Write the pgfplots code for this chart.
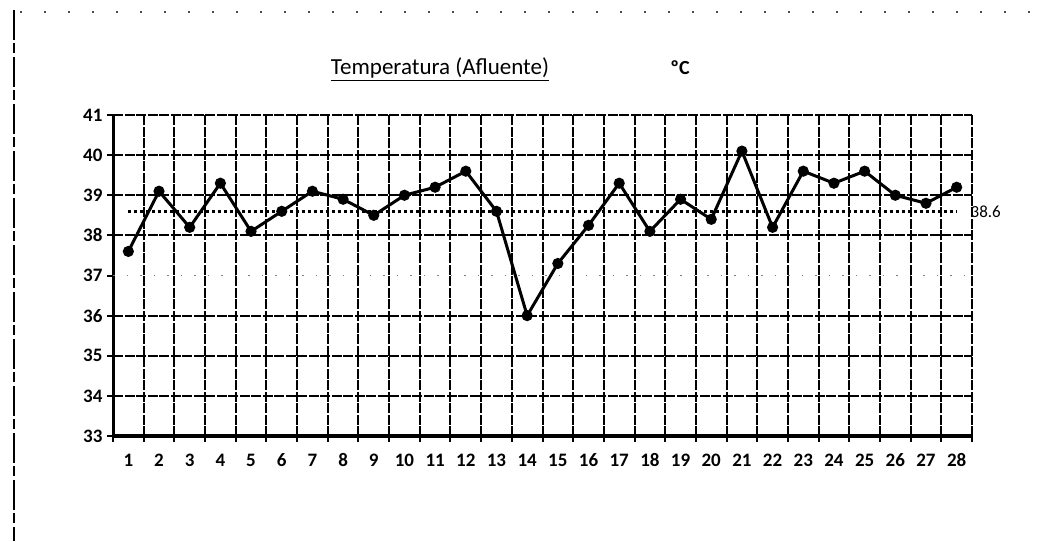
\documentclass[border=0pt]{standalone}
\usepackage{fontspec}
\setmainfont{Carlito}
\usepackage{pgfplots}
\pgfplotsset{compat=1.18}
\begin{document}
\begin{tikzpicture}[x=1pt,y=1pt]
\path[use as bounding box] (0,0) rectangle (1062,541);
% scan artefacts
\draw[black, line width=2pt, dash pattern=on 30pt off 3pt on 10pt off 4pt] (14,531) -- (14,0);
\draw[black!70, line width=2.5pt, dash pattern=on 2pt off 22pt] (20,529) -- (1040,529);
% title
\node[anchor=base, font=\fontsize{23}{26}\selectfont] at (440,466) {\underline{Temperatura (Afluente)}};
\node[anchor=base, font=\fontsize{20}{24}\selectfont\bfseries] at (680,466) {ºC};
\begin{axis}[
  at={(113pt,105pt)}, anchor=south west,
  scale only axis, width=859pt, height=321pt,
  xmin=0.5, xmax=28.5, ymin=33, ymax=41,
  axis x line=bottom, axis y line=left,
  x axis line style={line width=4pt,-},
  y axis line style={line width=3pt,-},
  xtick={0.5,1.5,...,28.5}, xticklabels={},
  xmajorgrids=true,
  extra x ticks={1,2,...,28},
  extra x tick style={major tick length=0pt, xmajorgrids=false},
  ytick={33,34,...,41},
  extra y ticks={34,35,36,38,39,40,41},
  extra y tick labels={},
  extra y tick style={ymajorgrids=true, major tick length=0pt},
  tick align=outside,
  major tick length=6pt,
  tick style={black, line width=2pt},
  major grid style={black, line width=2pt, dash pattern=on 10pt off 1.5pt},
  tick label style={font=\fontsize{19}{21}\selectfont\bfseries},
  xticklabel style={anchor=base, yshift=-30pt, text height=1.4ex, text depth=0pt},
  yticklabel style={anchor=east, xshift=-1pt},
  /pgf/number format/assume math mode=true,
  clip=false,
]
\draw[black!50, line width=1.5pt, dash pattern=on 1.5pt off 12pt] (axis cs:0.5,37) -- (axis cs:28.5,37);
\addplot[black, line width=2.5pt, dash pattern=on 2.5pt off 3.5pt, forget plot] coordinates {(1,38.6) (28,38.6)};
\addplot[black, line width=3pt, mark=*, mark size=4pt, mark options={solid}] coordinates {
(1,37.6) (2,39.1) (3,38.2) (4,39.3) (5,38.1) (6,38.6) (7,39.1) (8,38.9) (9,38.5) (10,39.0)
(11,39.2) (12,39.6) (13,38.6) (14,36.0) (15,37.3) (16,38.25) (17,39.3) (18,38.1) (19,38.9) (20,38.4)
(21,40.1) (22,38.2) (23,39.6) (24,39.3) (25,39.6) (26,39.0) (27,38.8) (28,39.2)};
\node[anchor=west, inner sep=0pt, font=\fontsize{17}{19}\selectfont] at (axis cs:28.45,38.6) {38.6};
\end{axis}
\end{tikzpicture}
\end{document}
